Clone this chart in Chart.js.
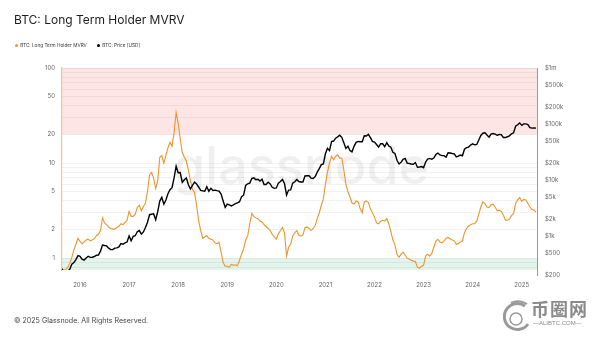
<!DOCTYPE html>
<html>
<head>
<meta charset="utf-8">
<script src="https://cdn.jsdelivr.net/npm/chart.js@4.4.1/dist/chart.umd.min.js"></script>
<style>
  html, body { margin: 0; padding: 0; background: #fff; }
  #marco { position: relative; width: 600px; height: 338px; overflow: hidden; font-family: Inter, "Liberation Sans", sans-serif; }
  #grafico { position: absolute; left: 0; top: 0; }
  .titulo { position: absolute; left: 14px; top: 12px; font-size: 12px; color: #1d1d1d; white-space: nowrap; }
  .leyenda { position: absolute; left: 15px; top: 42px; font-size: 4.7px; color: #333; white-space: nowrap; }
  .leyenda span { margin-right: 9px; }
  .leyenda i { display: inline-block; width: 3.2px; height: 3.2px; border-radius: 50%; margin-right: 2px; vertical-align: middle; }
  .pie { position: absolute; left: 14px; top: 316px; font-size: 7.1px; color: #444; white-space: nowrap; }
  .sello { position: absolute; left: 531px; top: 298px; color: #8a8a8a; font-family: "Noto Sans CJK SC", sans-serif; font-weight: 700; font-size: 18px; line-height: 20px; letter-spacing: 1px; }
  .sello small { display: block; font-family: "Liberation Sans", sans-serif; font-size: 6px; font-weight: 400; line-height: 10px; letter-spacing: 0; margin-left: 2px; }
  .sello svg { position: absolute; left: -28px; top: 0px; }
</style>
</head>
<body>
<div id="marco">
  <canvas id="grafico" width="600" height="338"></canvas>
  <div class="titulo">BTC: Long Term Holder MVRV</div>
  <div class="leyenda">
    <span><i style="background:#f7931a"></i>BTC: Long Term Holder MVRV</span>
    <span><i style="background:#000"></i>BTC: Price [USD]</span>
  </div>
  <div class="pie">© 2025 Glassnode. All Rights Reserved.</div>
  <div class="sello">
    <svg width="28" height="38" viewBox="0 0 28 38">
      <path d="M22 8 A13 13 0 1 0 25 26" fill="none" stroke="#9a9a9a" stroke-width="3"/>
      <circle cx="13" cy="21" r="6" fill="none" stroke="#9a9a9a" stroke-width="1.5"/>
      <path d="M8 5 Q16 1 24 6" fill="none" stroke="#9a9a9a" stroke-width="2"/>
    </svg>
    币圈网<small>—ALIBTC.COM—</small>
  </div>
</div>
<script>
const colorTexto = '#666';// color de las etiquetas de los ejes
const fuenteEjes = { family: 'Inter, "Liberation Sans", sans-serif', size: 6 };

// valores cada 1 y 15 de mes, desde agosto de 2015
const mvrv2015 = [0.80, 0.77, 0.75, 0.76, 0.80, 0.88, 1.02, 1.22, 1.40, 1.62];
const mvrv2016 = [1.50, 1.42, 1.48, 1.55, 1.58, 1.52, 1.55, 1.60, 1.72, 1.78, 1.95, 2.65, 2.35, 2.25, 2.12, 2.05, 2.02, 2.02, 2.10, 2.15, 2.30, 2.25, 2.37, 2.50];
const mvrv2017 = [3.10, 2.75, 2.75, 2.90, 3.40, 3.60, 3.15, 3.50, 3.80, 5.00, 7.50, 8.00, 7.00, 5.40, 6.50, 11.5, 12.0, 10.0, 12.0, 14.5, 16.5, 15.0, 21.0, 34.0];
const mvrv2018 = [26.0, 18.0, 13.0, 11.5, 10.5, 8.4, 6.5, 5.3, 4.9, 3.6, 2.5, 1.95, 1.62, 1.68, 1.72, 1.62, 1.58, 1.55, 1.45, 1.42, 1.47, 1.15, 0.90, 0.82];
const mvrv2019 = [0.82, 0.80, 0.86, 0.84, 0.85, 0.83, 0.95, 1.10, 1.25, 1.55, 1.72, 2.30, 2.95, 2.75, 2.65, 2.60, 2.45, 2.40, 2.25, 2.15, 2.05, 1.95, 1.78, 1.68];
const mvrv2020 = [1.58, 1.80, 1.95, 2.10, 1.85, 1.05, 1.30, 1.40, 1.70, 1.85, 1.95, 1.75, 1.70, 1.75, 2.10, 2.12, 2.05, 1.95, 2.05, 2.20, 2.60, 3.00, 3.60, 4.20];
const mvrv2021 = [6.0, 8.0, 10.0, 11.8, 10.8, 11.8, 12.2, 11.2, 11.3, 8.5, 6.0, 5.0, 4.4, 3.8, 3.7, 4.0, 3.9, 3.3, 3.0, 3.9, 4.0, 3.85, 3.3, 3.0];
const mvrv2022 = [2.70, 2.35, 2.30, 2.45, 2.50, 2.45, 2.60, 2.30, 1.90, 1.55, 1.38, 1.10, 1.02, 1.10, 1.15, 1.08, 1.00, 0.97, 0.95, 0.93, 0.92, 0.80, 0.78, 0.82];
const mvrv2023 = [0.84, 1.05, 1.10, 1.05, 1.12, 1.30, 1.50, 1.58, 1.48, 1.45, 1.52, 1.62, 1.65, 1.60, 1.55, 1.52, 1.40, 1.42, 1.48, 1.52, 1.85, 2.05, 2.18, 2.25];
const mvrv2024 = [2.30, 2.30, 2.45, 2.90, 3.45, 3.90, 3.75, 3.45, 3.40, 3.65, 3.70, 3.45, 3.15, 3.20, 3.10, 2.85, 2.50, 2.50, 2.58, 2.80, 2.95, 3.75, 4.10, 4.35];
const mvrv2025 = [3.95, 4.15, 4.10, 3.75, 3.45, 3.25, 3.20, 3.05];

const precio2015 = [280, 262, 230, 232, 237, 255, 315, 335, 378, 445];
const precio2016 = [432, 387, 372, 405, 435, 415, 417, 430, 452, 455, 537, 690, 676, 665, 606, 570, 572, 608, 614, 640, 730, 712, 754, 780];
const precio2017 = [1000, 820, 985, 1010, 1190, 1250, 1080, 1180, 1420, 1760, 2400, 2450, 2500, 1950, 2730, 4200, 4900, 3700, 4400, 5700, 6700, 7300, 10900, 17600];
const precio2018 = [13500, 13600, 9100, 10100, 10900, 8200, 6900, 8000, 9200, 8500, 7500, 6500, 6400, 6300, 7600, 6300, 7100, 6500, 6600, 6450, 6350, 5600, 4200, 3250];
const precio2019 = [3700, 3600, 3450, 3600, 3800, 3900, 4100, 5050, 5350, 8000, 8550, 8800, 10600, 10900, 10100, 10300, 9600, 10300, 8300, 8300, 9150, 8500, 7400, 7100];
const precio2020 = [7200, 8800, 9400, 10250, 8550, 5400, 6600, 6650, 8800, 9300, 10200, 9400, 9230, 9200, 11800, 11900, 11900, 10800, 10600, 11500, 13800, 16000, 18800, 19400];
const precio2021 = [29400, 36800, 33500, 48700, 49600, 55900, 59000, 63200, 57800, 46400, 36700, 40200, 33500, 31800, 39900, 47000, 48800, 48100, 48100, 61500, 61000, 65500, 57200, 48900];
const precio2022 = [47700, 43100, 38700, 44500, 44400, 39300, 46300, 40500, 38500, 31300, 29800, 22500, 19300, 20800, 23300, 24300, 20000, 19700, 19300, 19100, 20500, 16900, 17100, 17400];
const precio2023 = [16600, 20900, 23700, 24300, 23600, 24700, 28500, 30300, 28000, 27200, 27200, 25600, 30600, 30300, 29700, 29200, 25800, 26600, 27900, 27100, 35400, 37800, 38700, 42000];
const precio2024 = [44200, 42500, 43100, 51900, 62400, 68400, 69700, 63400, 58200, 66200, 67700, 66200, 62900, 64800, 64600, 57500, 57300, 59200, 61500, 67000, 69500, 91000, 97000, 104500];
const precio2025 = [94400, 100500, 100600, 97500, 86000, 84300, 85200, 84500];

// marcas de los ejes
const aniosEje = [2016, 2017, 2018, 2019, 2020, 2021, 2022, 2023, 2024, 2025];
const lineasMvrv = [0.8, 0.9, 1, 2, 3, 4, 5, 6, 7, 8, 9, 10, 20, 30, 40, 50, 60, 70, 80, 90, 100];
const etiquetasMvrv = [1, 2, 5, 10, 20, 50, 100];
const valoresPrecio = [200, 500, 1000, 2000, 5000, 10000, 20000, 50000, 100000, 200000, 500000, 1000000];
const etiquetasPrecio = ['$200', '$500', '$1k', '$2k', '$5k', '$10k', '$20k', '$50k', '$100k', '$200k', '$500k', '$1m'];

const mvrv = [].concat(mvrv2015, mvrv2016, mvrv2017, mvrv2018, mvrv2019, mvrv2020, mvrv2021, mvrv2022, mvrv2023, mvrv2024, mvrv2025);
const precio = [].concat(precio2015, precio2016, precio2017, precio2018, precio2019, precio2020, precio2021, precio2022, precio2023, precio2024, precio2025);
const fechas = mvrv.map((v, i) => 2015 + (7 + i / 2) / 12);//fecha en años decimales

// zonas de color y marca de agua, debajo de las lineas
const fondoGrafico = {
    id: 'fondoGrafico',
    beforeDraw(chart) {
        const { ctx, chartArea, scales } = chart;
        const y = scales.y;
        ctx.save();
        ctx.fillStyle = '#fde5e5';
        ctx.fillRect(chartArea.left, y.getPixelForValue(100), chartArea.right - chartArea.left, y.getPixelForValue(20) - y.getPixelForValue(100));
        ctx.fillStyle = '#e3f4ed';
        ctx.fillRect(chartArea.left, y.getPixelForValue(1), chartArea.right - chartArea.left, chartArea.bottom - y.getPixelForValue(1));
        ctx.font = '500 52px Inter, "Liberation Sans", sans-serif';
        ctx.fillStyle = 'rgba(0, 0, 0, 0.06)';
        ctx.textAlign = 'center';
        ctx.fillText('glassnode', 301, 184);
        ctx.restore();
    },
    afterDraw(chart) {
        const { ctx, chartArea } = chart;
        ctx.save();
        ctx.strokeStyle = '#9b9b9b';
        ctx.lineWidth = 1;
        ctx.beginPath();
        ctx.moveTo(chartArea.right + 0.5, chartArea.top);
        ctx.lineTo(chartArea.right + 0.5, chartArea.bottom + 6);
        ctx.stroke();
        ctx.restore();
    }
};

const grafico = new Chart(document.getElementById('grafico'), {
    type: 'line',
    data: {
        datasets: [
            {
                label: 'BTC: Price [USD]',
                data: fechas.map((t, i) => ({ x: t, y: precio[i] })),
                yAxisID: 'yPrecio',
                borderColor: '#000',
                borderWidth: 1.4,
                pointRadius: 0,
                tension: 0,
                order: 0
            },
            {
                label: 'BTC: Long Term Holder MVRV',
                data: fechas.map((t, i) => ({ x: t, y: mvrv[i] })),
                yAxisID: 'y',
                borderColor: '#f0932a',
                borderWidth: 1.1,
                pointRadius: 0,
                tension: 0,
                order: 1
            }
        ]
    },
    options: {
        responsive: false,
        animation: false,
        layout: { padding: { top: 68, left: 0, right: 0, bottom: 0 } },
        plugins: { legend: { display: false }, tooltip: { enabled: false } },
        scales: {
            x: {
                type: 'linear',
                min: 2015.633,
                max: 2025.311,
                afterBuildTicks: (eje) => { eje.ticks = aniosEje.map(v => ({ value: v })); },
                afterFit: (eje) => { eje.height = 68; },
                ticks: { callback: (v) => String(v), color: colorTexto, font: fuenteEjes, padding: 12, maxRotation: 0, autoSkip: false },
                grid: { display: false, drawTicks: false },
                border: { display: false }
            },
            y: {
                type: 'logarithmic',
                position: 'left',
                min: 0.75,
                max: 100,
                afterBuildTicks: (eje) => { eje.ticks = lineasMvrv.map(v => ({ value: v })); },
                afterFit: (eje) => { eje.width = 62; },
                ticks: { callback: (v) => etiquetasMvrv.includes(v) ? String(v) : '', color: colorTexto, font: fuenteEjes, padding: 7, autoSkip: false },
                grid: { color: 'rgba(0, 0, 0, 0.05)', drawTicks: false },
                border: { color: '#f3c48c', width: 1.2 }
            },
            yPrecio: {
                type: 'logarithmic',
                position: 'right',
                min: 247,
                max: 1000000,
                afterBuildTicks: (eje) => { eje.ticks = valoresPrecio.map(v => ({ value: v })); },
                afterFit: (eje) => { eje.width = 63; },
                ticks: { callback: (v, i) => etiquetasPrecio[i], color: colorTexto, font: fuenteEjes, padding: 8, autoSkip: false },
                grid: { display: false, drawTicks: false },
                border: { display: false }
            }
        }
    },
    plugins: [fondoGrafico]
});
</script>
</body>
</html>
